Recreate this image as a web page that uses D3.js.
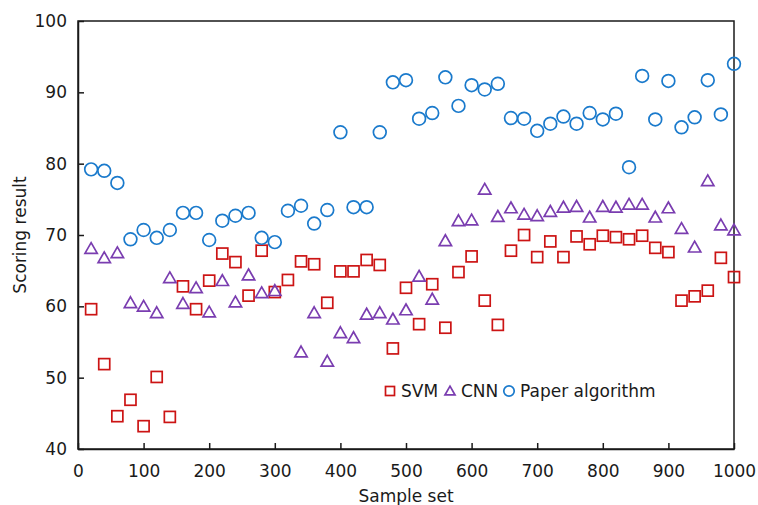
<!DOCTYPE html>
<html>
<head>
<meta charset="utf-8">
<script src="https://cdn.jsdelivr.net/npm/d3@7"></script>
<style>
  body { margin: 0; background: #fff; }
  text { font-family: "DejaVu Sans", sans-serif; fill: #1a1a1a; }
</style>
</head>
<body>
<div id="chart"></div>
<script>
// sample set sizes (x)
var sampleSet = d3.range(20, 1001, 20);

// Scoring results
var svm = [59.6, 51.9, 44.6, 46.9, 43.2, 50.1, 44.5, 62.8, 59.6, 63.6,
           67.4, 66.2, 61.5, 67.8, 62.0, 63.7, 66.3, 65.9, 60.5, 64.9,
           64.9, 66.5, 65.8, 54.1, 62.6, 57.5, 63.1, 57.0, 64.8, 67.0,
           60.8, 57.4, 67.8, 70.0, 66.9, 69.1, 66.9, 69.8, 68.7, 69.9,
           69.7, 69.4, 69.9, 68.2, 67.6, 60.8, 61.4, 62.2, 66.8, 64.1];

// CNN has no visible marker at 320
var cnn = [68.1, 66.8, 67.5, 60.5, 60.0, 59.1, 64.0, 60.4, 62.6, 59.2,
           63.6, 60.6, 64.4, 61.9, 62.2, null, 53.6, 59.1, 52.3, 56.3,
           55.6, 58.9, 59.1, 58.2, 59.5, 64.2, 61.0, 69.2, 72.0, 72.1,
           76.4, 72.6, 73.8, 72.9, 72.7, 73.3, 73.9, 74.0, 72.5, 74.0,
           73.9, 74.3, 74.3, 72.5, 73.8, 70.9, 68.3, 77.6, 71.4, 70.7];

var paper = [79.2, 79.0, 77.3, 69.4, 70.7, 69.6, 70.7, 73.1, 73.1, 69.3,
             72.0, 72.7, 73.1, 69.6, 69.0, 73.4, 74.1, 71.6, 73.5, 84.4,
             73.9, 73.9, 84.4, 91.4, 91.7, 86.3, 87.1, 92.1, 88.1, 91.0,
             90.4, 91.2, 86.4, 86.3, 84.6, 85.6, 86.6, 85.6, 87.1, 86.2,
             87.0, 79.5, 92.3, 86.2, 91.6, 85.1, 86.5, 91.7, 86.9, 94.0];

var xTicks = [0, 100, 200, 300, 400, 500, 600, 700, 800, 900, 1000];
var yTicks = [40, 50, 60, 70, 80, 90, 100];
var seriesNames = ["SVM", "CNN", "Paper algorithm"];

var width = 758, height = 505;
var margin = {top: 21, right: 24, bottom: 56, left: 78};

var colors = {"SVM": "#cc1414", "CNN": "#7a3db0", "Paper algorithm": "#1a7acc"};

var svg = d3.select("#chart").append("svg")
    .attr("width", width)
    .attr("height", height);

var x = d3.scaleLinear().domain([0, 1000]).range([margin.left, width - margin.right]);
var y = d3.scaleLinear().domain([40, 100]).range([height - margin.bottom, margin.top]);

// axes, ticks pointing inward
svg.append("g")
    .attr("class", "axis")
    .attr("transform", "translate(0," + y(40) + ")")
    .call(d3.axisBottom(x).tickValues(xTicks).tickFormat(d3.format("d"))
        .tickSizeInner(-6).tickSizeOuter(0).tickPadding(16));

svg.append("g")
    .attr("class", "axis")
    .attr("transform", "translate(" + x(0) + ",0)")
    .call(d3.axisLeft(y).tickValues(yTicks).tickFormat(d3.format("d"))
        .tickSizeInner(-6).tickSizeOuter(0).tickPadding(11));

svg.selectAll(".axis text")
    .style("font-size", "17px")
    .style("font-family", "DejaVu Sans")
    .attr("fill", "#1a1a1a");
svg.selectAll(".axis line, .axis path").attr("stroke", "#1a1a1a").attr("stroke-width", 1.5);

// frame
svg.append("rect")
    .attr("x", x(0))
    .attr("y", y(100))
    .attr("width", x(1000) - x(0))
    .attr("height", y(40) - y(100))
    .attr("fill", "none")
    .attr("stroke", "#1a1a1a")
    .attr("stroke-width", 1.5);

// axis titles
svg.append("text")
    .attr("x", (x(0) + x(1000)) / 2)
    .attr("y", 502)
    .attr("text-anchor", "middle")
    .style("font-size", "17px")
    .text("Sample set");

svg.append("text")
    .attr("transform", "translate(26," + (y(40) + y(100)) / 2 + ") rotate(-90)")
    .attr("text-anchor", "middle")
    .style("font-size", "17px")
    .text("Scoring result");

// marker drawers
function drawMarker(g, name, cx, cy, s) {
    var c = colors[name];
    if (name === "SVM") {
        g.append("rect")
            .attr("x", cx - s / 2).attr("y", cy - s / 2)
            .attr("width", s).attr("height", s)
            .attr("fill", "none").attr("stroke", c).attr("stroke-width", 1.7);
    } else if (name === "CNN") {
        var w = s * 1.12, h = s * 0.98;
        g.append("path")
            .attr("d", "M" + cx + "," + (cy - h * 0.55) +
                       "L" + (cx + w / 2) + "," + (cy + h * 0.45) +
                       "L" + (cx - w / 2) + "," + (cy + h * 0.45) + "Z")
            .attr("fill", "none").attr("stroke", c).attr("stroke-width", 1.7);
    } else {
        g.append("circle")
            .attr("cx", cx).attr("cy", cy).attr("r", s * 0.58)
            .attr("fill", "none").attr("stroke", c).attr("stroke-width", 1.7);
    }
}

var allSeries = [svm, cnn, paper];
allSeries.forEach(function(vals, i) {
    var g = svg.append("g").attr("class", "series");
    vals.forEach(function(v, j) {
        if (v === null) return;
        drawMarker(g, seriesNames[i], x(sampleSet[j]), y(v), 11);
    });
});

// legend
var legendX = [390, 450, 509];
var legend = svg.append("g").attr("class", "legend");
seriesNames.forEach(function(name, i) {
    drawMarker(legend, name, legendX[i], 391, 9);
    legend.append("text")
        .attr("x", legendX[i] + 11)
        .attr("y", 391)
        .attr("dy", "0.35em")
        .style("font-size", "17px")
        .text(name);
});
</script>
</body>
</html>
